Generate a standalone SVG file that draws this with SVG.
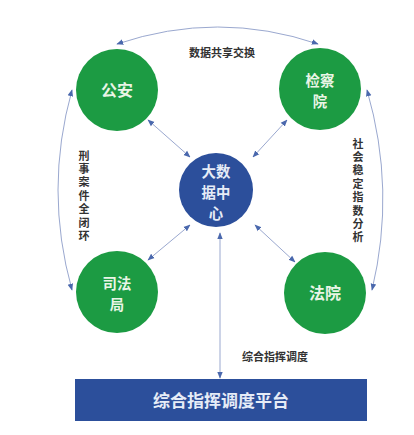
<svg xmlns="http://www.w3.org/2000/svg" width="414" height="435" viewBox="0 0 414 435">
<style>
.g{fill:#1c9b43}
.b{fill:#2c4f9b}
.c{fill:none;stroke:#9aa8cf;stroke-width:1}
.nt{font-family:"Noto Sans CJK SC","Noto Sans",sans-serif;font-size:16px;fill:#e9f5e6;text-anchor:middle;font-weight:bold}
.nm{font-size:14.4px}
.bt{fill:#e6ecf7}
.lb{font-family:"Noto Sans CJK SC","Noto Sans",sans-serif;font-size:11px;fill:#333;text-anchor:middle;font-weight:bold}
.vt{font-family:"Noto Sans CJK SC","Noto Sans",sans-serif;font-size:11px;fill:#333;font-weight:bold;writing-mode:vertical-rl;text-orientation:upright;letter-spacing:2.4px}
.pt{font-family:"Noto Sans CJK SC","Noto Sans",sans-serif;font-size:17px;fill:#e6ecf7;text-anchor:middle;font-weight:bold}
</style>
<defs>
<marker id="ah" viewBox="0 0 10 10" refX="9" refY="5" markerWidth="7" markerHeight="7" orient="auto-start-reverse">
<path d="M0,1 L10,5 L0,9 z" fill="#4a68ad"/>
</marker>
</defs>
<rect width="414" height="435" fill="#ffffff"/>
<g id="connectors">
<path class="c" d="M117,44 Q218,10 318,44" marker-start="url(#ah)" marker-end="url(#ah)"/>
<path class="c" d="M72,90 Q44,190 72,290" marker-start="url(#ah)" marker-end="url(#ah)"/>
<path class="c" d="M367,90 Q396,190 372,290" marker-start="url(#ah)" marker-end="url(#ah)"/>
<line class="c" x1="148" y1="120" x2="190" y2="157" marker-start="url(#ah)" marker-end="url(#ah)"/>
<line class="c" x1="287" y1="120" x2="253" y2="157" marker-start="url(#ah)" marker-end="url(#ah)"/>
<line class="c" x1="148" y1="260" x2="190" y2="225" marker-start="url(#ah)" marker-end="url(#ah)"/>
<line class="c" x1="295" y1="262" x2="255" y2="225" marker-start="url(#ah)" marker-end="url(#ah)"/>
<line class="c" x1="220" y1="233" x2="220" y2="378" marker-start="url(#ah)" marker-end="url(#ah)"/>
</g>
<g id="labels">
<text class="lb" x="222" y="57">数据共享交换</text>
<text class="vt" x="84" y="150">刑事案件全闭环</text>
<text class="vt" x="358" y="138">社会稳定指数分析</text>
<text class="lb" x="275" y="361">综合指挥调度</text>
</g>
<g id="gongan">
<circle class="g" cx="117" cy="90" r="41"/>
<text class="nt" x="117" y="96">公安</text>
</g>
<g id="jianchayuan">
<circle class="g" cx="320" cy="89" r="41"/>
<text class="nt nm" x="320" y="86">检察<tspan x="320" dy="21">院</tspan></text>
</g>
<g id="dashuju">
<circle class="b" cx="216" cy="190" r="37"/>
<text class="nt nm bt" x="216" y="177">大数<tspan x="216" dy="21">据中</tspan><tspan x="216" dy="21">心</tspan></text>
</g>
<g id="sifaju">
<circle class="g" cx="117" cy="292" r="41"/>
<text class="nt nm" x="117" y="289">司法<tspan x="117" dy="21">局</tspan></text>
</g>
<g id="fayuan">
<circle class="g" cx="325" cy="293" r="41"/>
<text class="nt" x="325" y="299">法院</text>
</g>
<g id="platform">
<rect class="b" x="75" y="379" width="292" height="42"/>
<text class="pt" x="221" y="407">综合指挥调度平台</text>
</g>
</svg>
